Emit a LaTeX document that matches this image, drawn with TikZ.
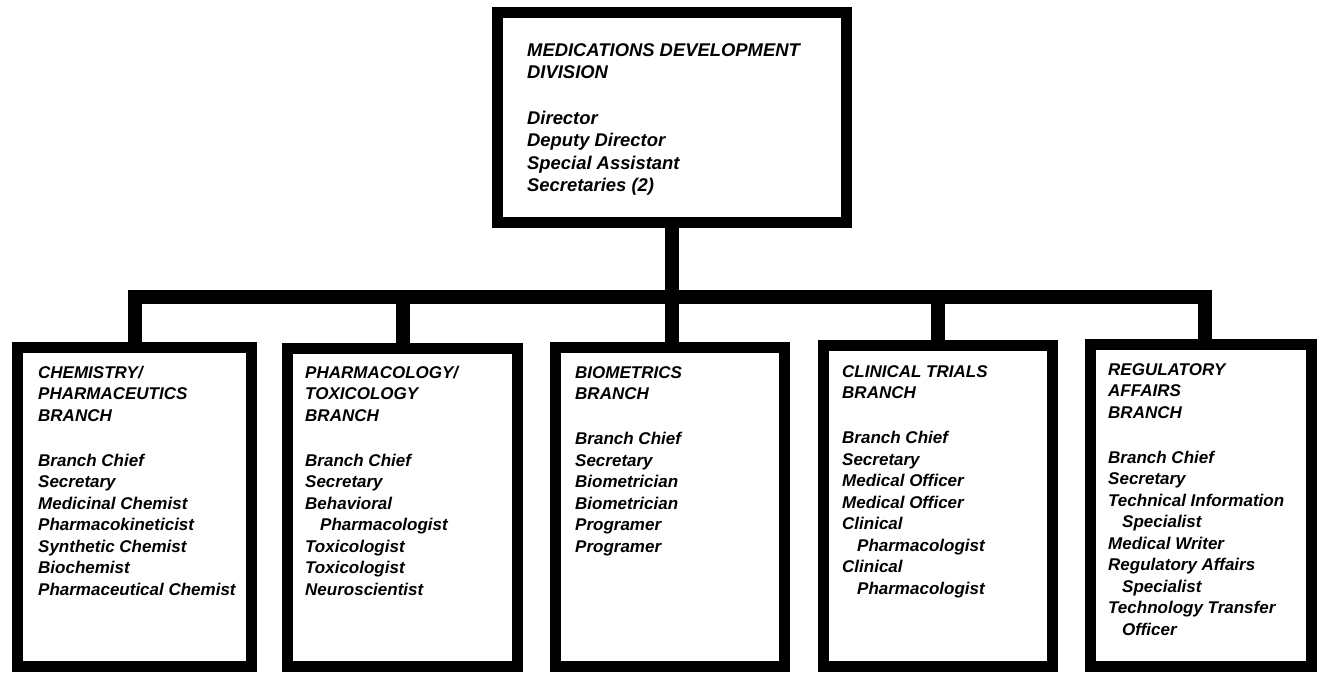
\documentclass[tikz,border=0pt]{standalone}
\usepackage{fontspec}
\setmainfont{Liberation Sans}
\newcommand\stacklines[1]{\vtop{\halign{##\hfil\cr#1\crcr}}}
\newcommand\gapline[1]{\noalign{\vskip#1}}
\begin{document}
\begin{tikzpicture}[x=1pt,y=-1pt,
  box/.style={draw=black,line width=11pt,fill=white,rectangle,inner sep=0pt},
  conn/.style={draw=black,line width=14pt,line cap=butt,line join=miter},
  ttl/.style={anchor=base west,inner sep=0pt,
    font=\fontsize{18.4}{22.3}\selectfont\bfseries\itshape},
  brt/.style={anchor=base west,inner sep=0pt,
    font=\fontsize{17}{21.5}\selectfont\bfseries\itshape}]
\useasboundingbox[fill=white] (0,0) rectangle (1323,673);
% top box: outer 492..852, 7..228
\node[box,minimum width=349pt,minimum height=210pt] (top) at (672,117.5) {};
% branch boxes
\node[box,minimum width=234pt,minimum height=319pt] (b1) at (134.5,507) {};
\node[box,minimum width=230pt,minimum height=318pt] (b2) at (402.5,507.5) {};
\node[box,minimum width=229pt,minimum height=319pt] (b3) at (670,507) {};
\node[box,minimum width=229pt,minimum height=321pt] (b4) at (938,506) {};
\node[box,minimum width=221pt,minimum height=322pt] (b5) at (1201,505.5) {};
% connectors
\coordinate (bar) at (671.5,297);
\coordinate (d5) at ([xshift=4pt]b5.north);
\draw[conn] (top.south) -- (top.south |- b3.north);
\draw[conn] (b1.north) |- (d5 |- bar) -- (d5);
\draw[conn] (b2.north) -- (b2.north |- bar);
\draw[conn] (b4.north) -- (b4.north |- bar);
% texts
\node[ttl] (ttop) at (527,56.5) {\stacklines{MEDICATIONS DEVELOPMENT\cr DIVISION\cr\gapline{1pt}\cr Director\cr Deputy Director\cr Special Assistant\cr Secretaries (2)}};
\node[brt] (t1) at (38,378) {\stacklines{CHEMISTRY/\cr PHARMACEUTICS\cr BRANCH\cr\gapline{2pt}\cr Branch Chief\cr Secretary\cr Medicinal Chemist\cr Pharmacokineticist\cr Synthetic Chemist\cr Biochemist\cr Pharmaceutical Chemist}};
\node[brt] (t2) at (305,378) {\stacklines{PHARMACOLOGY/\cr TOXICOLOGY\cr BRANCH\cr\gapline{2pt}\cr Branch Chief\cr Secretary\cr Behavioral\cr\hspace*{15pt}Pharmacologist\cr Toxicologist\cr Toxicologist\cr Neuroscientist}};
\node[brt] (t3) at (575,378) {\stacklines{BIOMETRICS\cr BRANCH\cr\gapline{2pt}\cr Branch Chief\cr Secretary\cr Biometrician\cr Biometrician\cr Programer\cr Programer}};
\node[brt] (t4) at (842,377) {\stacklines{CLINICAL TRIALS\cr BRANCH\cr\gapline{2pt}\cr Branch Chief\cr Secretary\cr Medical Officer\cr Medical Officer\cr Clinical\cr\hspace*{15pt}Pharmacologist\cr Clinical\cr\hspace*{15pt}Pharmacologist}};
\node[brt] (t5) at (1108,375) {\stacklines{REGULATORY\cr AFFAIRS\cr BRANCH\cr\gapline{2pt}\cr Branch Chief\cr Secretary\cr Technical Information\cr\hspace*{14pt}Specialist\cr Medical Writer\cr Regulatory Affairs\cr\hspace*{14pt}Specialist\cr Technology Transfer\cr\hspace*{14pt}Officer}};
\end{tikzpicture}
\end{document}
